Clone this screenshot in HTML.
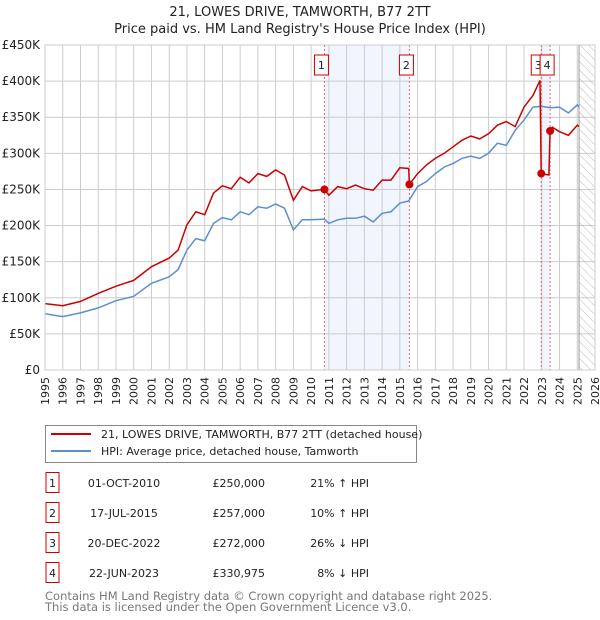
<!DOCTYPE html>
<html><head><meta charset="utf-8">
<style>
body{margin:0;background:#fff;font-family:"Liberation Sans","DejaVu Sans",sans-serif;}
#wrap{position:relative;width:600px;height:620px;overflow:hidden;}
svg text{font-family:"DejaVu Sans","Liberation Sans",sans-serif;}
</style></head>
<body>
<div id="wrap">
<svg id="svg" width="600" height="620"></svg>
</div>
<script>
const years=[1995,1996,1997,1998,1999,2000,2001,2002,2003,2004,2005,2006,2007,2008,2009,2010,2011,2012,2013,2014,2015,2016,2017,2018,2019,2020,2021,2022,2023,2024,2025,2026];
const yTicks=[0,50,100,150,200,250,300,350,400,450];
const yTickLabels=["£0","£50K","£100K","£150K","£200K","£250K","£300K","£350K","£400K","£450K"];
const hpiT=[1995,1996,1997,1998,1999,2000,2001,2002,2002.5,2003,2003.5,2004,2004.5,2005,2005.5,2006,2006.5,2007,2007.5,2008,2008.5,2009,2009.5,2010,2010.75,2011,2011.5,2012,2012.5,2013,2013.5,2014,2014.5,2015,2015.5,2016,2016.5,2017,2017.5,2018,2018.5,2019,2019.5,2020,2020.5,2021,2021.5,2022,2022.5,2023,2023.5,2024,2024.5,2025,2025.1];
const hpiV=[78,74,79,86,96,102,120,129,139,166,182,179,203,211,208,219,215,226,224,230,224,194,208,208,209,203,208,210,210,213,205,217,219,231,234,254,261,272,281,286,293,296,293,300,314,311,332,346,364,365,363,364,356,367,364];
const redT=[1995,1996,1997,1998,1999,2000,2001,2002,2002.5,2003,2003.5,2004,2004.5,2005,2005.5,2006,2006.5,2007,2007.5,2008,2008.5,2009,2009.5,2010,2010.75,2011,2011.5,2012,2012.5,2013,2013.5,2014,2014.5,2015,2015.5,2015.54,2016,2016.5,2017,2017.5,2018,2018.5,2019,2019.5,2020,2020.5,2021,2021.5,2022,2022.5,2022.9,2022.97,2023.4,2023.47,2023.6,2024,2024.5,2025,2025.1];
const redV=[92,89,95,106,116,124,143,155,166,201,219,215,245,255,251,267,259,272,268,277,270,235,254,248,250,242,254,251,256,251,249,263,263,280,279,257,272,284,293,300,309,318,324,320,327,339,344,337,364,380,401,272,270,332,336,330,325,339,337];
const saleT=[2010.75,2015.54,2022.97,2023.47];
const saleV=[250,257,272,330.975];
const saleLabels=["1","2","3","4"];

const NS="http://www.w3.org/2000/svg";
const svg=document.getElementById('svg');
const X0=45,X1=595,Y0=370,Y1=45;
const xs=t=>X0+(t-1995)/(2026-1995)*(X1-X0);
const ys=v=>Y0-v/450*(Y0-Y1);
function mk(tag,attrs,parent){const e=document.createElementNS(NS,tag);for(const k in attrs)e.setAttribute(k,attrs[k]);(parent||svg).appendChild(e);return e;}

let t=mk('text',{x:300,y:16,'text-anchor':'middle','font-size':13,fill:'#222'});t.textContent="21, LOWES DRIVE, TAMWORTH, B77 2TT";

t=mk('text',{x:300,y:33,'text-anchor':'middle','font-size':13,fill:'#222'});t.textContent="Price paid vs. HM Land Registry's House Price Index (HPI)";


let r=mk('rect',{x:xs(saleT[0]),y:Y1,width:xs(saleT[1])-xs(saleT[0]),height:Y0-Y1,fill:'#eef3fc',opacity:0.8});

r=mk('rect',{x:xs(saleT[2]),y:Y1,width:xs(saleT[3])-xs(saleT[2]),height:Y0-Y1,fill:'#eef3fc',opacity:0.8});


years.forEach(y=>{const l=mk('line',{x1:xs(y),x2:xs(y),y1:Y1,y2:Y0,stroke:'#cccccc','stroke-width':1});

const px=xs(y)+4,py=377;
const tx=mk('text',{x:px,y:py,'text-anchor':'end','font-size':11,fill:'#222',transform:`rotate(-90 ${px} ${py})`});tx.textContent=y;
});
yTicks.forEach((v,i)=>{const l=mk('line',{x1:X0,x2:X1,y1:ys(v),y2:ys(v),stroke:'#cccccc','stroke-width':1});

const tx=mk('text',{x:40,y:ys(v)+4,'text-anchor':'end','font-size':12,fill:'#222'});tx.textContent=yTickLabels[i];
});

const defs=mk('defs',{});
const pat=mk('pattern',{id:'hatch',width:6,height:6,patternUnits:'userSpaceOnUse',patternTransform:'rotate(-45)'},defs);
mk('line',{x1:0,y1:0,x2:0,y2:6,stroke:'#bbbbbb','stroke-width':1},pat);
const hx=xs(2025.1);
r=mk('rect',{x:hx,y:Y1,width:X1-hx,height:Y0-Y1,fill:'url(#hatch)'});

mk('line',{x1:hx,x2:hx,y1:Y1,y2:Y0,stroke:'#999','stroke-width':1});

saleT.forEach((s,i)=>{const l=mk('line',{x1:xs(s),x2:xs(s),y1:Y1,y2:Y0,stroke:'#ee6666','stroke-width':1,'stroke-dasharray':'2,2'});
});

function path(T,V){return T.map((x,i)=>(i?'L':'M')+xs(x).toFixed(1)+','+ys(V[i]).toFixed(1)).join('');}
let p=mk('path',{d:path(hpiT,hpiV),fill:'none',stroke:'#5b8fd4','stroke-width':1.5});

p=mk('path',{d:path(redT,redV),fill:'none',stroke:'#cc0000','stroke-width':1.5});

saleT.forEach((s,i)=>{const c=mk('circle',{cx:xs(s),cy:ys(saleV[i]),r:4,fill:'#cc0000'});
});

saleT.forEach((s,i)=>{const bx=xs(s)+4-14;const g=mk('g',{});

mk('rect',{x:bx,y:55,width:14,height:20,fill:'#fff',stroke:'#cc0000','stroke-width':1},g);
const tx=mk('text',{x:bx+7,y:69,'text-anchor':'middle','font-size':11,fill:'#222'},g);tx.textContent=saleLabels[i];});

mk('rect',{x:X0,y:Y1,width:X1-X0,height:Y0-Y1,fill:'none',stroke:'#cccccc','stroke-width':1});

const lg=mk('g',{});
mk('rect',{x:45.5,y:425.5,width:371,height:37,fill:'#fff',stroke:'#888','stroke-width':1},lg);
mk('line',{x1:51,x2:91,y1:434,y2:434,stroke:'#cc0000','stroke-width':2},lg);
mk('line',{x1:51,x2:91,y1:451,y2:451,stroke:'#5b8fd4','stroke-width':2},lg);
t=mk('text',{x:101,y:438,'font-size':11,fill:'#222'},lg);t.textContent="21, LOWES DRIVE, TAMWORTH, B77 2TT (detached house)";

t=mk('text',{x:101,y:455,'font-size':11,fill:'#222'},lg);t.textContent="HPI: Average price, detached house, Tamworth";


const dates=["01-OCT-2010","17-JUL-2015","20-DEC-2022","22-JUN-2023"];
const prices=["£250,000","£257,000","£272,000","£330,975"];
const rel=["21% ↑ HPI","10% ↑ HPI","26% ↓ HPI","8% ↓ HPI"];
dates.forEach((d,i)=>{const cy=483+i*30;const g=mk('g',{});

mk('rect',{x:46,y:cy-10.5,width:13,height:20,fill:'#fff',stroke:'#cc0000','stroke-width':1},g);
let a=mk('text',{x:52.5,y:cy+4,'text-anchor':'middle','font-size':11,fill:'#222'},g);a.textContent=i+1;
a=mk('text',{x:124,y:cy+4,'text-anchor':'middle','font-size':11,fill:'#222'},g);a.textContent=d;
a=mk('text',{x:265,y:cy+4,'text-anchor':'end','font-size':11,fill:'#222'},g);a.textContent=prices[i];
a=mk('text',{x:369,y:cy+4,'text-anchor':'end','font-size':11,fill:'#222'},g);a.textContent=rel[i];});

t=mk('text',{x:45,y:600,'font-size':11.5,fill:'#777'});t.textContent="Contains HM Land Registry data © Crown copyright and database right 2025.";

t=mk('text',{x:45,y:611,'font-size':11.5,fill:'#777'});t.textContent="This data is licensed under the Open Government Licence v3.0.";

</script>
</body></html>
